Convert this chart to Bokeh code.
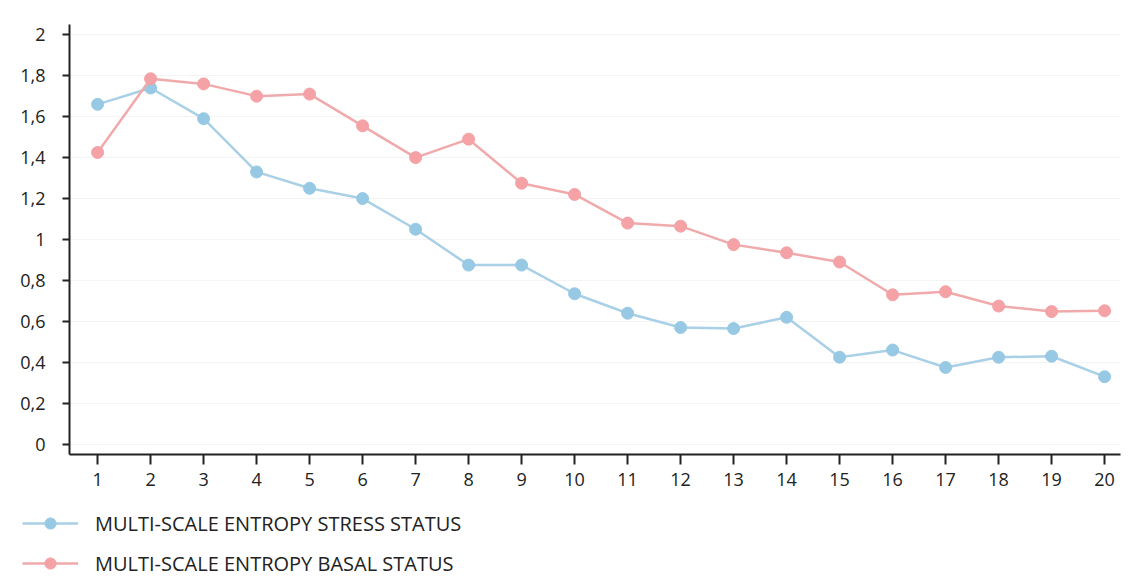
from bokeh.plotting import figure
from bokeh.layouts import column
from bokeh.models import Range1d, FixedTicker, CustomJSTickFormatter, Legend, LegendItem
from bokeh.embed import file_html
from bokeh.resources import INLINE

scales = list(range(1, 21))
stress = [1.66, 1.74, 1.59, 1.33, 1.25, 1.20, 1.05, 0.875, 0.875, 0.735,
          0.64, 0.57, 0.565, 0.62, 0.425, 0.46, 0.375, 0.425, 0.43, 0.33]
basal = [1.425, 1.785, 1.76, 1.70, 1.71, 1.555, 1.40, 1.49, 1.275, 1.22,
         1.08, 1.065, 0.975, 0.935, 0.89, 0.73, 0.745, 0.675, 0.648, 0.652]
y_ticks = [0, 0.2, 0.4, 0.6, 0.8, 1.0, 1.2, 1.4, 1.6, 1.8, 2.0]
labels = ["MULTI-SCALE ENTROPY STRESS STATUS", "MULTI-SCALE ENTROPY BASAL STATUS"]

BLUE_L = "#a9d0e6"
BLUE_M = "#98c9e4"
RED_L = "#f0aaab"
RED_M = "#f4a2a5"
FONT = "Open Sans"

p = figure(width=1128, height=490, output_backend="svg", toolbar_location=None,
           x_range=Range1d(0.47, 20.3), y_range=Range1d(-0.05, 2.05),
           min_border_left=69, min_border_right=8, min_border_top=24,
           min_border_bottom=36)
p.frame_align = False
p.outline_line_color = None
p.background_fill_color = "white"
p.border_fill_color = "white"

p.xgrid.grid_line_color = None
p.ygrid.grid_line_color = "#f4f4f4"
p.ygrid.ticker = FixedTicker(ticks=y_ticks)

p.xaxis.ticker = FixedTicker(ticks=scales)
p.yaxis.ticker = FixedTicker(ticks=y_ticks)
p.yaxis.formatter = CustomJSTickFormatter(code="""
const r = Math.round(tick*10)/10;
return (Math.abs(r % 1) < 1e-9) ? r.toFixed(0) : r.toFixed(1).replace('.', ',');
""")
for ax in (p.xaxis[0], p.yaxis[0]):
    ax.axis_line_color = "#222222"
    ax.axis_line_width = 2
    ax.major_tick_line_color = "#222222"
    ax.major_tick_line_width = 2
    ax.minor_tick_line_color = None
    ax.major_tick_in = 0
    ax.major_label_text_font = FONT
    ax.major_label_text_font_size = "18px"
    ax.major_label_text_color = "#222222"
p.xaxis.major_tick_out = 10
p.yaxis.major_tick_out = 7
p.xaxis.major_label_standoff = 8
p.yaxis.major_label_standoff = 17

l1 = p.line(scales, stress, line_color=BLUE_L, line_width=2.5)
s1 = p.scatter(scales, stress, size=12, fill_color=BLUE_M, line_color=BLUE_M)
l2 = p.line(scales, basal, line_color=RED_L, line_width=2.5)
s2 = p.scatter(scales, basal, size=12, fill_color=RED_M, line_color=RED_M)

# legend strip below the chart
lg = figure(width=1128, height=88, output_backend="svg", toolbar_location=None,
            x_range=Range1d(0, 1), y_range=Range1d(0, 1),
            x_axis_type=None, y_axis_type=None,
            min_border_left=0, min_border_right=0, min_border_top=0, min_border_bottom=0)
lg.frame_align = False
lg.outline_line_color = None
lg.grid.grid_line_color = None
k1 = lg.line([-5, -4], [-5, -4], line_color=BLUE_L, line_width=2.5)
m1 = lg.scatter([-5], [-5], size=12, fill_color=BLUE_M, line_color=BLUE_M)
k2 = lg.line([-5, -4], [-5, -4], line_color=RED_L, line_width=2.5)
m2 = lg.scatter([-5], [-5], size=12, fill_color=RED_M, line_color=RED_M)

legend = Legend(items=[LegendItem(label=labels[0], renderers=[k1, m1]),
                       LegendItem(label=labels[1], renderers=[k2, m2])],
                location=(22, 1), orientation="vertical",
                glyph_width=56, glyph_height=28, label_height=28,
                spacing=12, padding=0, margin=0, label_standoff=17,
                border_line_color=None, background_fill_alpha=0,
                label_text_font=FONT, label_text_font_size="20px",
                label_text_color="#222222")
lg.add_layout(legend, "center")

open("out.html", "w").write(file_html(column(p, lg, spacing=0), INLINE))
